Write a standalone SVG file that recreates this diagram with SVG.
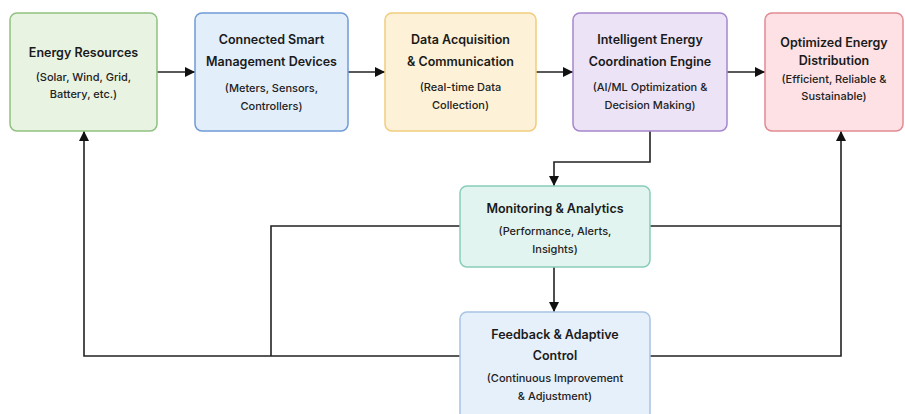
<svg xmlns="http://www.w3.org/2000/svg" width="905" height="414" viewBox="0 0 905 414">
<style>
.t{font-family:Inter,"Open Sans","Liberation Sans",sans-serif;font-weight:600;font-size:12.5px;fill:#1a1a1a;text-anchor:middle}
.s{font-family:Inter,"Open Sans","Liberation Sans",sans-serif;font-weight:500;font-size:11px;fill:#222;text-anchor:middle}
.c{fill:none;stroke:#222;stroke-width:1.6}
.box{stroke-width:1.5}
</style>
<defs>
<marker id="ah" viewBox="0 0 10 10" refX="10" refY="5" markerWidth="10" markerHeight="10" markerUnits="userSpaceOnUse" orient="auto">
<path d="M0,0 L10,5 L0,10 z" fill="#111"/>
</marker>
</defs>
<rect width="905" height="414" fill="#ffffff"/>
<g id="connectors">
<path class="c" d="M157,72 H195" marker-end="url(#ah)"/>
<path class="c" d="M348,72 H385" marker-end="url(#ah)"/>
<path class="c" d="M536,72 H573" marker-end="url(#ah)"/>
<path class="c" d="M727,72 H765" marker-end="url(#ah)"/>
<path class="c" d="M650,131 V162 H554 V186" marker-end="url(#ah)"/>
<path class="c" d="M554,267 V312" marker-end="url(#ah)"/>
<path class="c" d="M460,226 H271 V356"/>
<path class="c" d="M460,356 H84 V131" marker-end="url(#ah)"/>
<path class="c" d="M650,226 H841"/>
<path class="c" d="M650,356 H841 V131" marker-end="url(#ah)"/>
</g>
<g id="energy-resources">
<rect class="box" x="10" y="13" width="147" height="118" rx="7" fill="#e9f3e2" stroke="#8fc27f"/>
<text class="t" x="83.5" y="57">Energy Resources</text>
<text class="s" x="83.5" y="81">(Solar, Wind, Grid,</text>
<text class="s" x="83.5" y="98">Battery, etc.)</text>
</g>
<g id="smart-devices">
<rect class="box" x="195" y="13" width="153" height="118" rx="7" fill="#e3eefb" stroke="#6f9bd6"/>
<text class="t" x="271.5" y="44">Connected Smart</text>
<text class="t" x="271.5" y="66">Management Devices</text>
<text class="s" x="271.5" y="92">(Meters, Sensors,</text>
<text class="s" x="271.5" y="110">Controllers)</text>
</g>
<g id="data-acquisition">
<rect class="box" x="385" y="13" width="151" height="118" rx="7" fill="#fdf1d7" stroke="#f0cd7c"/>
<text class="t" x="460.5" y="44">Data Acquisition</text>
<text class="t" x="460.5" y="66">&amp; Communication</text>
<text class="s" x="460.5" y="91">(Real-time Data</text>
<text class="s" x="460.5" y="109">Collection)</text>
</g>
<g id="coordination-engine">
<rect class="box" x="573" y="13" width="154" height="118" rx="7" fill="#ede3f7" stroke="#a586cc"/>
<text class="t" x="650" y="44">Intelligent Energy</text>
<text class="t" x="650" y="66">Coordination Engine</text>
<text class="s" x="650" y="91">(AI/ML Optimization &amp;</text>
<text class="s" x="650" y="109">Decision Making)</text>
</g>
<g id="energy-distribution">
<rect class="box" x="765" y="13" width="138" height="118" rx="7" fill="#fde1e4" stroke="#e28a92"/>
<text class="t" x="834" y="47">Optimized Energy</text>
<text class="t" x="834" y="65">Distribution</text>
<text class="s" x="834" y="83">(Efficient, Reliable &amp;</text>
<text class="s" x="834" y="100">Sustainable)</text>
</g>
<g id="monitoring">
<rect class="box" x="460" y="186" width="190" height="81" rx="7" fill="#e2f4ef" stroke="#88cdb9"/>
<text class="t" x="555" y="213">Monitoring &amp; Analytics</text>
<text class="s" x="555" y="235">(Performance, Alerts,</text>
<text class="s" x="555" y="253">Insights)</text>
</g>
<g id="feedback">
<rect class="box" x="460" y="312" width="190" height="108" rx="7" fill="#e6f0fb" stroke="#a8c4e3"/>
<text class="t" x="555" y="339">Feedback &amp; Adaptive</text>
<text class="t" x="555" y="360">Control</text>
<text class="s" x="555" y="382">(Continuous Improvement</text>
<text class="s" x="555" y="400">&amp; Adjustment)</text>
</g>
</svg>
